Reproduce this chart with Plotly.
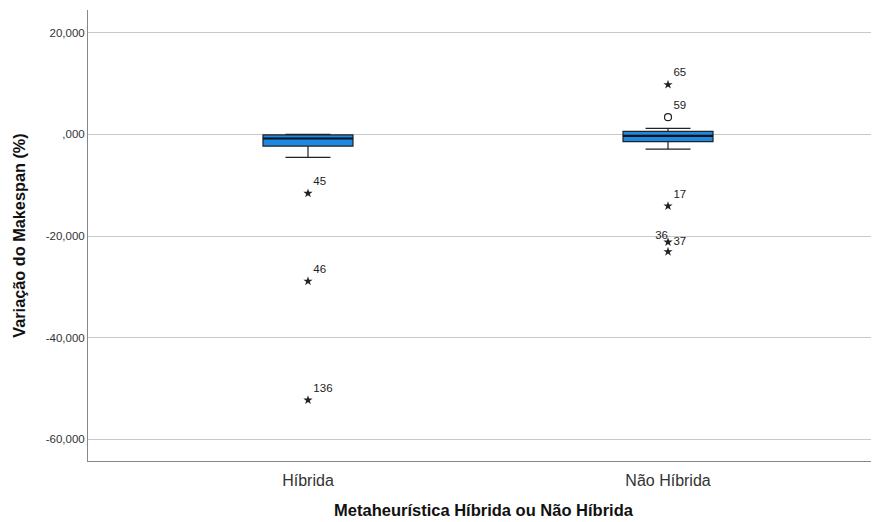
import plotly.graph_objects as go

categories = ["Híbrida", "Não Híbrida"]
q1 = [-2.3, -1.4]
median = [-0.8, -0.3]
q3 = [-0.1, 0.6]
lower_whisker = [-4.5, -2.9]
upper_whisker = [0.0, 1.2]

# extreme outliers (stars)
star_group = [0, 0, 0, 1, 1, 1, 1]
star_values = [-11.6, -28.9, -52.3, 9.8, -14.1, -21.2, -23.1]
star_labels = ["45", "46", "136", "65", "17", "37", ""]
star_pos = ["top right", "top right", "top right", "top right", "top right", "middle right", "top right"]

# mild outliers (circles)
circle_group = [1]
circle_values = [3.4]
circle_labels = ["59"]

# displaced label
extra_group = [1]
extra_values = [-21.2]
extra_labels = ["36"]

yticks = [-60, -40, -20, 0, 20]
yticklabels = ["-60,000", "-40,000", "-20,000", ",000", "20,000"]

FONT = "Liberation Sans"
box_color = "#1E88E5"
fig = go.Figure()
xs = list(range(len(categories)))
fig.add_trace(go.Box(
    x=xs, q1=q1, median=median, q3=q3,
    lowerfence=lower_whisker, upperfence=upper_whisker,
    width=0.25, whiskerwidth=0.5,
    fillcolor=box_color, line=dict(color="#222222", width=1.2),
    boxpoints=False, hoverinfo="skip", showlegend=False,
))
# thicker median lines
for i, m in zip(xs, median):
    fig.add_trace(go.Scatter(
        x=[i - 0.125, i + 0.125], y=[m, m], mode="lines",
        line=dict(color="#111111", width=2.2), showlegend=False, hoverinfo="skip"))

fig.add_trace(go.Scatter(
    x=star_group, y=star_values, mode="markers+text",
    marker=dict(symbol="star", size=7, color="#222222"),
    text=star_labels, textposition=star_pos,
    textfont=dict(family=FONT, size=11.5, color="#222222"),
    showlegend=False, cliponaxis=False))
fig.add_trace(go.Scatter(
    x=circle_group, y=circle_values, mode="markers+text",
    marker=dict(symbol="circle-open", size=7, color="#222222", line=dict(width=1.2)),
    text=circle_labels, textposition="top right",
    textfont=dict(family=FONT, size=11.5, color="#222222"),
    showlegend=False))
fig.add_trace(go.Scatter(
    x=extra_group, y=extra_values, mode="text",
    text=extra_labels, textposition="top left",
    textfont=dict(family=FONT, size=11.5, color="#222222"),
    showlegend=False))

fig.update_layout(
    width=871, height=514,
    margin=dict(l=80, r=0, t=2, b=61, autoexpand=False),
    paper_bgcolor="white", plot_bgcolor="white",
    font=dict(family=FONT, color="#222222"),
    xaxis=dict(
        range=[-0.611, 1.586], tickvals=xs, ticktext=categories,
        showgrid=False, zeroline=False, showline=True, linecolor="#888888",
        linewidth=1, ticks="", tickfont=dict(family=FONT, size=16, color="#333333"),
        ticklabelstandoff=5, automargin=False,
        title=dict(text="<b>Metaheurística Híbrida ou Não Híbrida</b>",
                   font=dict(family=FONT, size=16.5, color="#111111"), standoff=16),
    ),
    yaxis=dict(
        range=[-64.3, 24.5], tickvals=yticks, ticktext=yticklabels,
        showgrid=True, gridcolor="#c8c8c8", gridwidth=1, zeroline=False,
        showline=True, linecolor="#888888", linewidth=1, ticks="",
        tickfont=dict(family=FONT, size=11.5, color="#333333"), automargin=False,
        title=dict(text="<b>Variação do Makespan (%)</b>",
                   font=dict(family=FONT, size=16.3, color="#111111"), standoff=15),
    ),
)
fig.write_html("out.html")
